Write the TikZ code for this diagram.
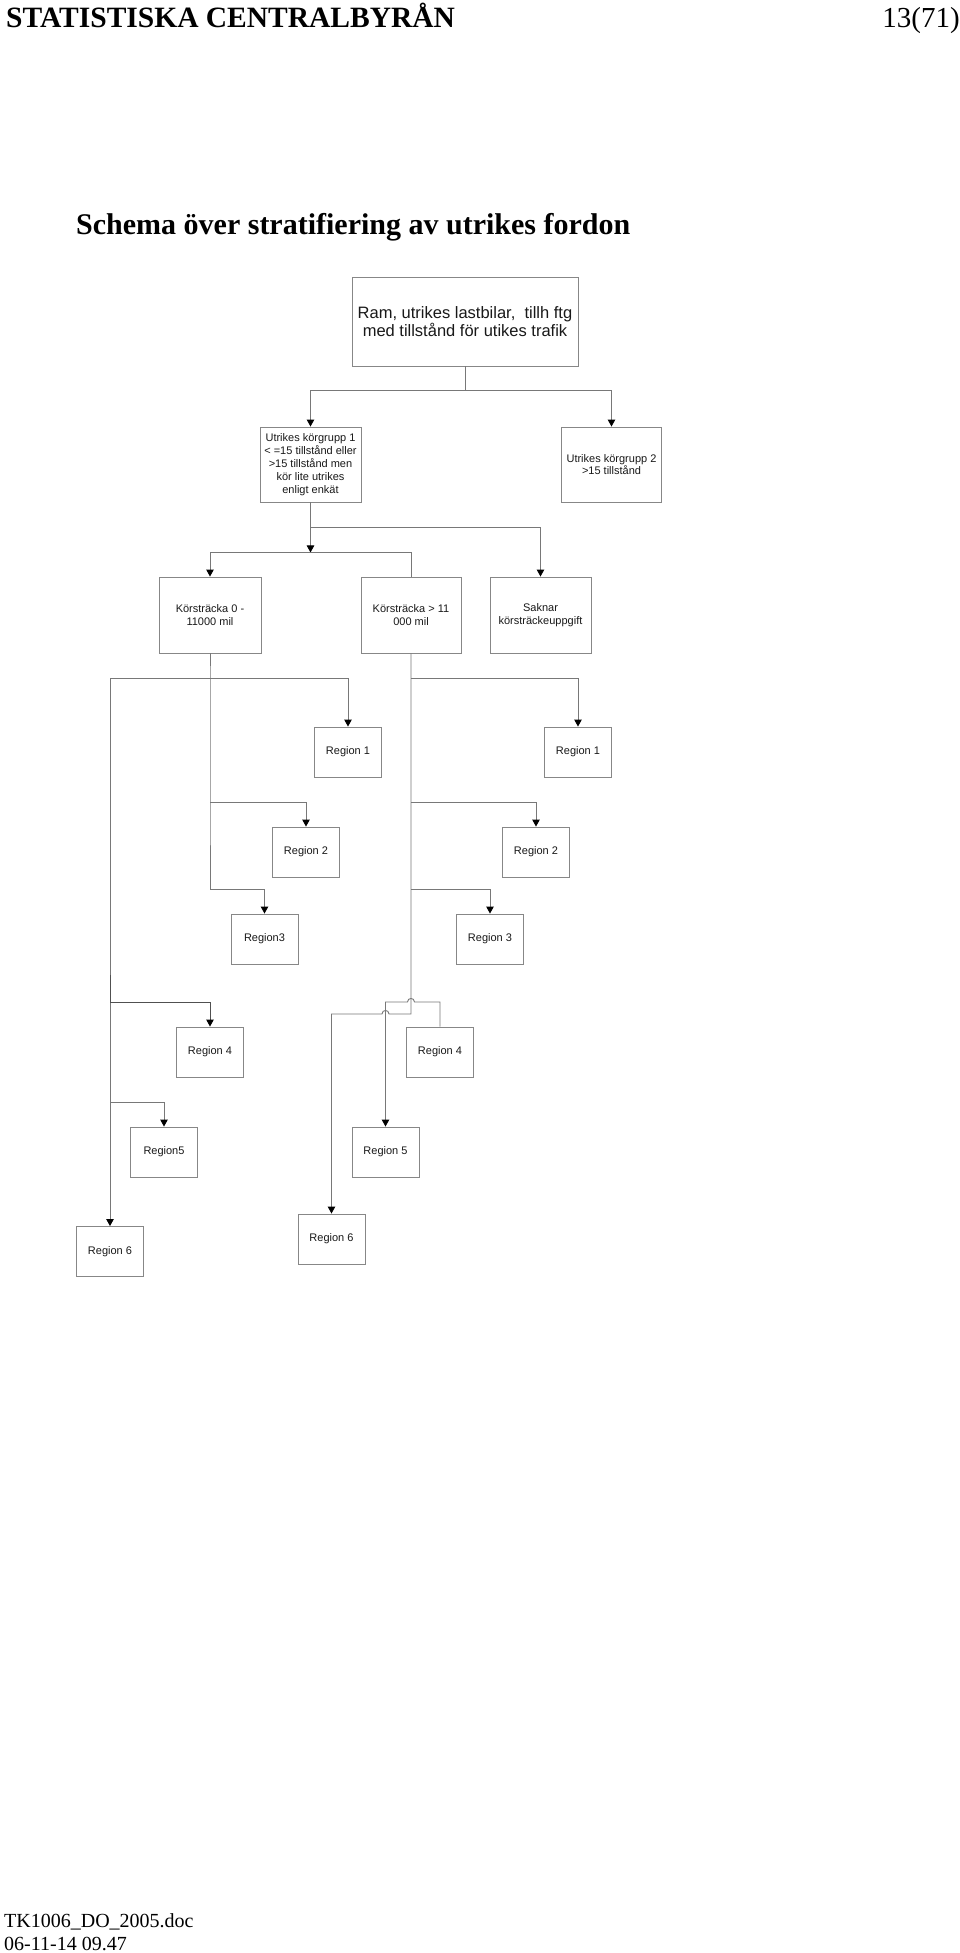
\documentclass[tikz,border=0pt]{standalone}
\usepackage{fontspec}
\setmainfont{Liberation Serif}
\newfontfamily\diagfont{Liberation Sans}
\usetikzlibrary{arrows.meta,calc}
\definecolor{linegray}{RGB}{120,120,120}
\definecolor{linedark}{RGB}{80,80,80}
\definecolor{boxgray}{RGB}{135,135,135}
\definecolor{textcol}{RGB}{25,25,25}
\tikzset{
  box/.style={draw=boxgray, line width=0.9pt, inner sep=0pt, align=center, text=textcol,
    font=\diagfont\fontsize{11}{12.5}\selectfont},
  regbox/.style={box, minimum width=67pt, minimum height=50pt},
  wire/.style={draw=linegray, line width=0.9pt},
  arr/.style={wire, -{Triangle[length=7pt,width=7.5pt,color=black,fill=black]}},
}
\begin{document}
\begin{tikzpicture}[x=1pt,y=-1pt]
\useasboundingbox (0,0) rectangle (960,1953);
\fill[white] (0,0) rectangle (960,1953);

% header, title, footer
\node[anchor=base west, inner sep=0pt, font=\fontsize{29.5}{32}\selectfont\bfseries] (hdr) at (6,28) {STATISTISKA CENTRALBYRÅN};
\node[anchor=base east, inner sep=0pt, font=\fontsize{29}{32}\selectfont] (pg) at (960,28) {13(71)};
\node[anchor=base west, inner sep=0pt, font=\fontsize{30}{33}\selectfont\bfseries] (title) at (76,235) {Schema över stratifiering av utrikes fordon};
\node[anchor=base west, inner sep=0pt, font=\fontsize{20}{23}\selectfont] (f1) at (4,1927) {TK1006\_DO\_2005.doc};
\node[anchor=base west, inner sep=0pt, font=\fontsize{20}{23}\selectfont] (f2) at (4,1950) {06-11-14 09.47};

% boxes
\node[box, minimum width=226pt, minimum height=89pt, font=\diagfont\fontsize{16.5}{18.5}\selectfont] (ram) at (465,321.5) {Ram, utrikes lastbilar,\ \ tillh ftg\\med tillstånd för utikes trafik};
\node[box, minimum width=101pt, minimum height=75pt, font=\diagfont\fontsize{11}{13}\selectfont] (uk1) at (310.5,464.5) {Utrikes körgrupp 1\\< =15 tillstånd eller\\>15 tillstånd men\\kör lite utrikes\\enligt enkät};
\node[box, minimum width=100pt, minimum height=75pt] (uk2) at (611.5,464.5) {Utrikes körgrupp 2\\>15 tillstånd};
\node[box, minimum width=102pt, minimum height=76pt] (k0) at (210,615) {Körsträcka 0 -\\11000 mil};
\node[box, minimum width=100pt, minimum height=76pt] (k11) at (411,615) {Körsträcka > 11\\000 mil};
\node[box, minimum width=101pt, minimum height=76pt] (sak) at (540.5,615) {Saknar\\körsträckeuppgift};

\node[regbox] (r1l) at (348,752) {Region 1};
\node[regbox] (r1r) at (578,752) {Region 1};
\node[regbox] (r2l) at (306,852) {Region 2};
\node[regbox] (r2r) at (536,852) {Region 2};
\node[regbox] (r3l) at (264.5,939) {Region3};
\node[regbox] (r3r) at (490,939) {Region 3};
\node[regbox] (r4l) at (210,1052) {Region 4};
\node[regbox] (r4r) at (440,1052) {Region 4};
\node[regbox] (r5l) at (164,1152) {Region5};
\node[regbox] (r5r) at (385.5,1152) {Region 5};
\node[regbox] (r6l) at (110,1251.5) {Region 6};
\node[regbox] (r6r) at (331.5,1239) {Region 6};

% connectors top
\draw[wire] (ram.south) -- ++(0,24) coordinate (j1);
\draw[arr] (j1) -| (uk1.north);
\draw[arr] (j1) -| (uk2.north);

\draw[wire] (uk1.south) -- ++(0,25) coordinate (j2);
\draw[arr] (j2) -| (sak.north);
\draw[arr] (j2) -- ++(0,25) coordinate (j3);
\draw[arr] (j3) -| (k0.north);
\draw[wire] (j3) -| (k11.north);

% left branch (k0): trunk drawn once
\draw[wire] (k0.south) -- ++(0,25) coordinate (j4) -- ++(0,124) coordinate (j6) -- ++(0,87) coordinate (j7);
\draw[arr] (j4) -| (r1l.north);
\draw[arr] (j6) -| (r2l.north);
\draw[arr] (j7) -| (r3l.north);
\coordinate (j5) at (r6l.north |- j4);
\draw[wire] (j4) -- (j5);
\draw[arr] (j5) -- (r6l.north);
\draw[arr, draw=linedark] ($(j5)+(0,297)$) -- ++(0,27) -| (r4l.north);
\coordinate (j8) at ($(j5)+(0,424)$);
\draw[arr] (j8) -| (r5l.north);

% right branch (k11): trunk drawn once, ending at Region 6
\draw[arr] (k11.south) -- ++(0,25) coordinate (k1) -- ++(0,124) coordinate (k2) -- ++(0,87) coordinate (k3)
   -- (411,1014) -- (389,1014)
   .. controls (389,1009.3) and (382,1009.3) .. (382,1014) -- (331.5,1014) -- (r6r.north);
\draw[arr] (k1) -| (r1r.north);
\draw[arr] (k2) -| (r2r.north);
\draw[arr] (k3) -| (r3r.north);
\draw[arr] (r4r.north) -- (440,1002) -- (414.5,1002)
   .. controls (414.5,997.3) and (407.5,997.3) .. (407.5,1002) -- (385.5,1002) -- (r5r.north);
\end{tikzpicture}
\end{document}
